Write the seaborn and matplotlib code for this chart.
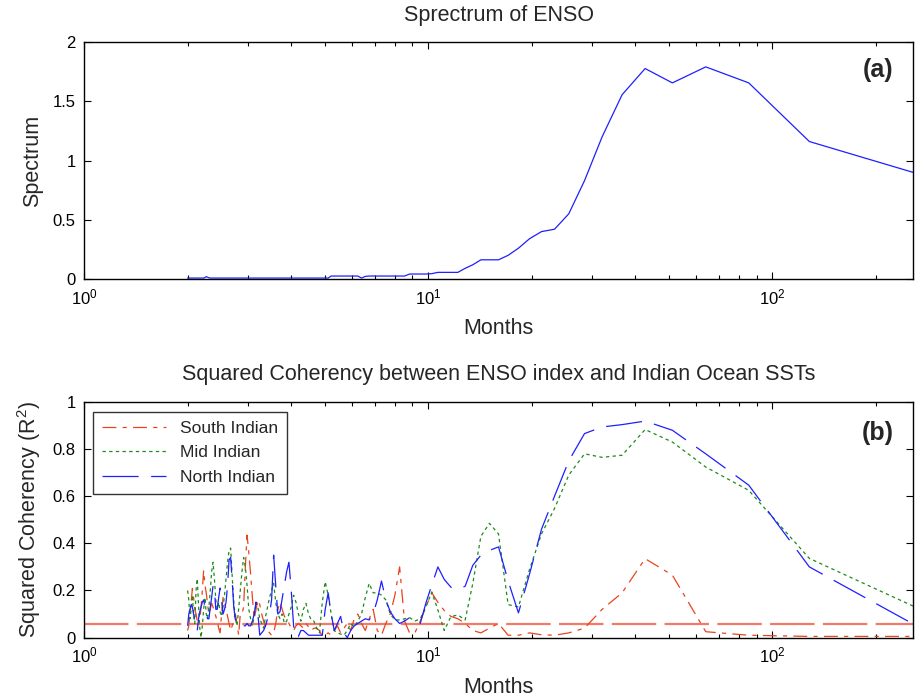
import numpy as np
import pandas as pd
import matplotlib
matplotlib.use("Agg")
import matplotlib.pyplot as plt
from matplotlib.ticker import FuncFormatter, FixedLocator
import seaborn as sns

# ---------------- data ----------------
N_MONTHS = 256
harmonic = np.arange(1, 129)
period = N_MONTHS / harmonic          # periods (months) of the Fourier harmonics

spectrum = [
    0.90, 1.16, 1.655, 1.79, 1.655, 1.776, 1.555, 1.20, 0.83, 0.55,
    0.42, 0.40, 0.34, 0.26, 0.20, 0.162, 0.162, 0.162, 0.12, 0.09,
    0.056, 0.056, 0.056, 0.056, 0.045, 0.042, 0.042, 0.042, 0.042, 0.025,
    0.025, 0.025, 0.025, 0.025, 0.025, 0.025, 0.025, 0.025, 0.022, 0.008,
    0.025, 0.025, 0.025, 0.025, 0.025, 0.025, 0.025, 0.025, 0.025, 0.008,
    0.008, 0.008, 0.008, 0.008, 0.008, 0.008, 0.008, 0.008, 0.008, 0.008,
    0.008, 0.008, 0.008, 0.008, 0.008, 0.008, 0.008, 0.008, 0.008, 0.008,
    0.008, 0.008, 0.008, 0.008, 0.008, 0.008, 0.008, 0.008, 0.008, 0.008,
    0.008, 0.008, 0.008, 0.008, 0.008, 0.008, 0.008, 0.008, 0.008, 0.008,
    0.008, 0.008, 0.008, 0.008, 0.008, 0.008, 0.008, 0.008, 0.008, 0.008,
    0.008, 0.008, 0.008, 0.008, 0.008, 0.008, 0.008, 0.008, 0.008, 0.008,
    0.010, 0.015, 0.020, 0.012, 0.008, 0.008, 0.008, 0.008, 0.008, 0.008,
    0.008, 0.008, 0.008, 0.008, 0.008, 0.008, 0.008, 0.008,
]

south_indian = [
    0.005, 0.005, 0.01, 0.025, 0.265, 0.335, 0.19, 0.12, 0.04, 0.02,
    0.01, 0.012, 0.02, 0.01, 0.01, 0.06, 0.04, 0.02, 0.03, 0.06,
    0.08, 0.09, 0.115, 0.15, 0.19, 0.13, 0.07, 0.02, 0.02, 0.07,
    0.30, 0.18, 0.10, 0.06, 0.01, 0.03, 0.12, 0.08, 0.03, 0.06,
    0.10, 0.08, 0.03, 0.06, 0.04, 0.02, 0.05, 0.03, 0.01, 0.02,
    0.01, 0.005, 0.03, 0.04, 0.04, 0.03, 0.045, 0.06, 0.04, 0.05,
    0.06, 0.05, 0.03, 0.04, 0.06, 0.08, 0.09, 0.12, 0.15, 0.12,
    0.06, 0.02, 0.01, 0.02, 0.03, 0.04, 0.07, 0.10, 0.14, 0.16,
    0.12, 0.08, 0.17, 0.27, 0.36, 0.435, 0.30, 0.13, 0.10, 0.10,
    0.01, 0.06, 0.10, 0.08, 0.05, 0.03, 0.06, 0.09, 0.12, 0.15,
    0.17, 0.10, 0.02, 0.04, 0.07, 0.09, 0.11, 0.13, 0.146, 0.12,
    0.10, 0.14, 0.19, 0.223, 0.286, 0.20, 0.13, 0.08, 0.05, 0.07,
    0.10, 0.12, 0.17, 0.209, 0.15, 0.10, 0.05, 0.03,
]

mid_indian = [
    0.134, 0.336, 0.625, 0.724, 0.83, 0.883, 0.774, 0.765, 0.78, 0.69,
    0.548, 0.44, 0.29, 0.13, 0.14, 0.44, 0.485, 0.43, 0.23, 0.075,
    0.096, 0.089, 0.03, 0.117, 0.194, 0.13, 0.08, 0.07, 0.085, 0.08,
    0.075, 0.075, 0.10, 0.16, 0.18, 0.19, 0.19, 0.23, 0.17, 0.10,
    0.07, 0.045, 0.06, 0.03, 0.01, 0.015, 0.02, 0.03, 0.10, 0.18,
    0.237, 0.15, 0.02, 0.04, 0.07, 0.075, 0.10, 0.145, 0.12, 0.07,
    0.10, 0.15, 0.18, 0.13, 0.10, 0.07, 0.06, 0.10, 0.08, 0.10,
    0.15, 0.23, 0.20, 0.17, 0.13, 0.09, 0.04, 0.06, 0.08, 0.13,
    0.15, 0.09, 0.05, 0.08, 0.12, 0.22, 0.30, 0.34, 0.28, 0.20,
    0.12, 0.05, 0.08, 0.15, 0.26, 0.38, 0.37, 0.32, 0.25, 0.18,
    0.13, 0.09, 0.11, 0.15, 0.12, 0.16, 0.25, 0.32, 0.28, 0.20,
    0.13, 0.08, 0.10, 0.17, 0.12, 0.05, 0.0, 0.04, 0.14, 0.25,
    0.20, 0.06, 0.10, 0.18, 0.12, 0.08, 0.16, 0.20,
]

north_indian = [
    0.058, 0.30, 0.647, 0.78, 0.88, 0.919, 0.904, 0.894, 0.866, 0.75,
    0.60, 0.46, 0.27, 0.105, 0.24, 0.385, 0.37, 0.35, 0.307, 0.218,
    0.205, 0.214, 0.247, 0.30, 0.223, 0.147, 0.06, 0.07, 0.085, 0.07,
    0.06, 0.08, 0.11, 0.16, 0.24, 0.16, 0.10, 0.075, 0.08, 0.07,
    0.06, 0.05, 0.03, 0.0, 0.02, 0.09, 0.06, 0.03, 0.10, 0.19,
    0.12, 0.01, 0.01, 0.01, 0.01, 0.01, 0.01, 0.02, 0.03, 0.03,
    0.005, 0.0, 0.05, 0.20, 0.32, 0.28, 0.22, 0.166, 0.11, 0.10,
    0.22, 0.35, 0.16, 0.10, 0.08, 0.05, 0.03, 0.02, 0.01, 0.10,
    0.15, 0.10, 0.07, 0.05, 0.05, 0.06, 0.05, 0.05, 0.06, 0.075,
    0.07, 0.08, 0.075, 0.13, 0.24, 0.34, 0.33, 0.22, 0.15, 0.12,
    0.10, 0.16, 0.21, 0.17, 0.12, 0.12, 0.20, 0.22, 0.17, 0.13,
    0.08, 0.08, 0.10, 0.13, 0.16, 0.15, 0.13, 0.11, 0.08, 0.03,
    0.04, 0.07, 0.10, 0.13, 0.14, 0.12, 0.10, 0.05,
]

significance_level = 0.058

series_names = ["South Indian", "Mid Indian", "North Indian"]
top_title = "Sprectrum of ENSO"
bottom_title = "Squared Coherency between ENSO index and Indian Ocean SSTs"

# ---------------- style ----------------
sns.set_theme(style="ticks")
plt.rcParams["font.family"] = ["Liberation Sans", "DejaVu Sans"]
plt.rcParams["mathtext.fontset"] = "custom"
plt.rcParams["mathtext.rm"] = "Liberation Sans"
plt.rcParams["mathtext.it"] = "Liberation Sans:italic"
plt.rcParams["lines.scale_dashes"] = False
plt.rcParams["axes.edgecolor"] = "black"
plt.rcParams["axes.linewidth"] = 1.0
plt.rcParams["xtick.color"] = "black"
plt.rcParams["ytick.color"] = "black"

W, H = 923, 699
fig = plt.figure(figsize=(W / 100, H / 100), dpi=100)
ax1 = fig.add_axes([84 / W, 1 - 279 / H, 829 / W, 237 / H])
ax2 = fig.add_axes([84 / W, 1 - 637.6 / H, 829 / W, 235.6 / H])

for ax in (ax1, ax2):
    ax.set_xscale("log")

df_spec = pd.DataFrame({"period": period, "spectrum": spectrum})
sns.lineplot(data=df_spec, x="period", y="spectrum", ax=ax1,
             color="#1f1fff", linewidth=0.9, estimator=None)

df_coh = pd.DataFrame({
    "period": period,
    "South Indian": south_indian,
    "Mid Indian": mid_indian,
    "North Indian": north_indian,
})

colors = {"South Indian": "#e8441e", "Mid Indian": "#1a8c1a", "North Indian": "#1f1fff"}
dashes = {"South Indian": (10, 4.5, 3, 4.5), "Mid Indian": (2.4, 2.4), "North Indian": (26, 9)}

# significance line
ax2.axhline(significance_level, color="#f27a66", linewidth=1.6, dashes=(32, 6), zorder=1)

handles = []
for name in series_names:
    sns.lineplot(data=df_coh, x="period", y=name, ax=ax2, color=colors[name],
                 linewidth=0.9, estimator=None)
    ln = ax2.lines[-1]
    ln.set_dashes(dashes[name])
    handles.append(ln)

# ---------------- axes formatting ----------------
def fmt(v, pos):
    return "%g" % v

LABEL_FS = 15.5
for ax in (ax1, ax2):
    ax.set_xlim(1, 256)
    ax.tick_params(which="both", direction="in", top=True, right=True,
                   labelsize=12, width=0.8)
    ax.tick_params(which="major", length=5, pad=6)
    ax.tick_params(which="minor", length=3)
    ax.set_xlabel("Months", fontsize=LABEL_FS, labelpad=8)
    ax.yaxis.set_major_formatter(FuncFormatter(fmt))

ax1.set_ylim(0, 2)
ax1.yaxis.set_major_locator(FixedLocator([0, 0.5, 1, 1.5, 2]))
ax1.set_ylabel("Spectrum", fontsize=LABEL_FS, labelpad=7)
ax1.set_title(top_title, fontsize=LABEL_FS, pad=15)
ax1.text(0.958, 0.88, "(a)", transform=ax1.transAxes, fontsize=18,
         fontweight="bold", ha="center", va="center")

ax2.set_ylim(0, 1)
ax2.yaxis.set_major_locator(FixedLocator([0, 0.2, 0.4, 0.6, 0.8, 1]))
ax2.set_ylabel("Squared Coherency (R$^2$)", fontsize=LABEL_FS, labelpad=7)
ax2.set_title(bottom_title, fontsize=LABEL_FS, pad=16)
ax2.text(0.958, 0.868, "(b)", transform=ax2.transAxes, fontsize=18,
         fontweight="bold", ha="center", va="center")

leg = ax2.legend(handles=handles, labels=series_names, loc="upper left",
                 bbox_to_anchor=(0.011, 0.958), borderaxespad=0, fontsize=12.5,
                 frameon=True, fancybox=False, edgecolor="black",
                 handlelength=3.7, handletextpad=0.8, labelspacing=0.55,
                 borderpad=0.5)
leg.get_frame().set_linewidth(1.0)

fig.savefig("out.png", dpi=100)
